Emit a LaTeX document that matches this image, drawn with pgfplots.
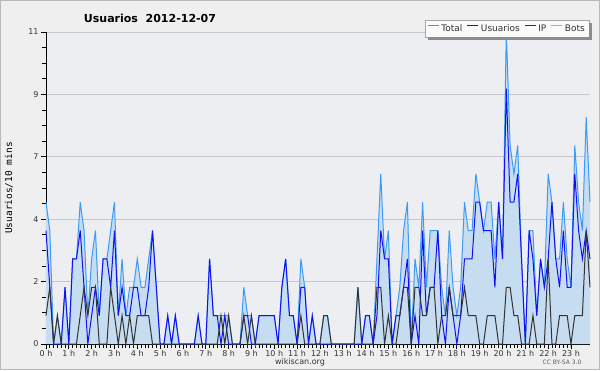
\documentclass[border=0pt]{standalone}
\usepackage{fontspec}
\setmainfont{DejaVu Sans}
\setmonofont{DejaVu Sans Mono}
\usepackage{pgfplots}
\usepackage{pgfplotstable}
\pgfplotsset{compat=1.18}
\definecolor{bgout}{HTML}{EFEFEF}
\definecolor{plotbg}{HTML}{ECEEF1}
\definecolor{fillc}{HTML}{C6DCF0}
\definecolor{totc}{HTML}{3D9BF5}
\definecolor{usrc}{HTML}{1010F0}
\definecolor{ipc}{HTML}{333333}
\definecolor{botc}{HTML}{FFA500}
\definecolor{gridc}{HTML}{C8C8C8}
\definecolor{txtc}{HTML}{333333}

\pgfplotstableread{
i U P T
0 4 1 5
1 2 2 4
2 0 0 0
3 0 1 1
4 0 0 0
5 2 0 2
6 0 0 0
7 3 0 3
8 3 0 3
9 4 1 5
10 2 2 4
11 0 1 1
12 1 2 3
13 2 2 4
14 1 0 1
15 3 0 3
16 3 0 3
17 2 2 4
18 4 1 5
19 1 0 1
20 2 1 3
21 1 0 1
22 1 1 2
23 2 0 2
24 2 1 3
25 1 1 2
26 1 1 2
27 2 1 3
28 4 0 4
29 2 0 2
30 0 0 0
31 0 0 0
32 1 0 1
33 0 0 0
34 1 0 1
35 0 0 0
36 0 0 0
37 0 0 0
38 0 0 0
39 0 0 0
40 1 0 1
41 0 0 0
42 0 0 0
43 3 0 3
44 1 0 1
45 1 0 1
46 0 1 1
47 1 0 1
48 0 1 1
49 0 0 0
50 0 0 0
51 0 0 0
52 1 1 2
53 1 0 1
54 0 1 1
55 0 0 0
56 1 0 1
57 1 0 1
58 1 0 1
59 1 0 1
60 1 0 1
61 0 0 0
62 2 0 2
63 3 0 3
64 1 0 1
65 1 0 1
66 0 0 0
67 2 1 3
68 2 0 2
69 0 0 0
70 1 0 1
71 0 0 0
72 0 0 0
73 0 1 1
74 0 1 1
75 0 0 0
76 0 0 0
77 0 0 0
78 0 0 0
79 0 0 0
80 0 0 0
81 0 0 0
82 0 2 2
83 0 0 0
84 1 0 1
85 1 0 1
86 0 0 0
87 1 2 3
88 4 2 6
89 3 0 3
90 3 1 4
91 0 0 0
92 1 0 1
93 1 1 2
94 2 2 4
95 3 2 5
96 0 0 0
97 1 2 3
98 0 2 2
99 4 1 5
100 1 1 2
101 2 2 4
102 2 2 4
103 4 0 4
104 1 1 2
105 0 1 1
106 2 2 4
107 1 1 2
108 0 1 1
109 1 1 2
110 3 2 5
111 3 1 4
112 3 1 4
113 5 1 6
114 5 0 5
115 4 0 4
116 4 1 5
117 4 1 5
118 2 1 3
119 5 0 5
120 3 0 3
121 9 2 11
122 5 2 7
123 5 1 6
124 6 1 7
125 3 0 3
126 0 0 0
127 4 0 4
128 3 1 4
129 1 0 1
130 3 0 3
131 2 0 2
132 3 3 6
133 5 0 5
134 3 0 3
135 2 1 3
136 4 1 5
137 2 1 3
138 2 0 2
139 6 1 7
140 4 1 5
141 3 1 4
142 4 4 8
143 3 2 5
}\data

\begin{document}
\begin{tikzpicture}
\useasboundingbox (0pt,0pt) rectangle (600pt,370pt);
\fill[bgout] (0pt,0pt) rectangle (600pt,370pt);
\draw[gray!55, line width=1.2pt] (0.6pt,0.6pt) rectangle (599.4pt,369.4pt);
\begin{axis}[
  at={(46pt,26pt)}, anchor=south west,
  scale only axis, width=544pt, height=312pt,
  xmin=0, xmax=143, ymin=0, ymax=11,
  axis background/.style={fill=plotbg},
  axis x line=bottom, axis y line=left,
  axis line style={-, black, line width=0.9pt},
  xtick={0,6,...,138},
  xticklabels={0 h,1 h,2 h,3 h,4 h,5 h,6 h,7 h,8 h,9 h,10 h,11 h,12 h,13 h,14 h,15 h,16 h,17 h,18 h,19 h,20 h,21 h,22 h,23 h},
  minor x tick num=5,
  ytick={0,2.2,4.4,6.6,8.8,11},
  yticklabels={0,2,4,7,9,11},
  minor y tick num=3,
  tick align=outside,
  major tick length=5pt, minor tick length=4pt,
  tick style={black, line width=0.8pt},
  ymajorgrids, grid style={gridc, line width=0.9pt},
  /pgf/number format/assume math mode=true,
  ticklabel style={font=\fontsize{8}{8}\selectfont, text=txtc},
  xticklabel style={yshift=2pt},
  yticklabel style={xshift=1pt},
  ylabel={Usuarios/10 mins},
  every axis y label/.style={at={(axis description cs:-0.068,0.5)}, rotate=90, anchor=center, font=\ttfamily\fontsize{9.5}{9.5}\selectfont, text=black},
  legend columns=4,
  legend style={name=leg, at={(axis description cs:1,1)}, anchor=south east, xshift=-1pt, yshift=-5pt,
    font=\fontsize{9}{9}\selectfont, text=txtc, draw=gray!70, fill=white!96!gray,
    inner xsep=2pt, inner ysep=2pt,
    /tikz/every even column/.append style={column sep=2.5pt}},
  legend image code/.code={\draw[#1, line width=1pt] (0pt,3.2pt) -- (11pt,3.2pt);},
  clip=false,
]
\addplot[fill=fillc, draw=none, forget plot] table[x=i,y=T]{\data} \closedcycle;
\addplot[totc, line width=1pt] table[x=i,y=T]{\data};
\addlegendentry{Total}
\addplot[usrc, line width=1pt] table[x=i,y=U]{\data};
\addlegendentry{Usuarios}
\addplot[ipc, line width=1pt] table[x=i,y=P]{\data};
\addlegendentry{IP}
\addlegendimage{botc, line width=1pt}
\addlegendentry{Bots}
\end{axis}
\fill[gray!90] ([xshift=0.4pt,yshift=-3pt]leg.north east) rectangle ([xshift=3pt,yshift=-3pt]leg.south east);
\fill[gray!90] ([xshift=3pt,yshift=-0.4pt]leg.south west) rectangle ([xshift=3pt,yshift=-3pt]leg.south east);
\node[font=\bfseries\fontsize{11}{11}\selectfont, text=black] at (150pt,352pt) {Usuarios\ \ 2012-12-07};
\node[font=\fontsize{8}{8}\selectfont, text=txtc] at (300pt,8pt) {wikiscan.org};
\node[font=\fontsize{6}{6}\selectfont, text=txtc!80] at (562pt,8pt) {CC BY-SA 3.0};
\end{tikzpicture}
\end{document}
